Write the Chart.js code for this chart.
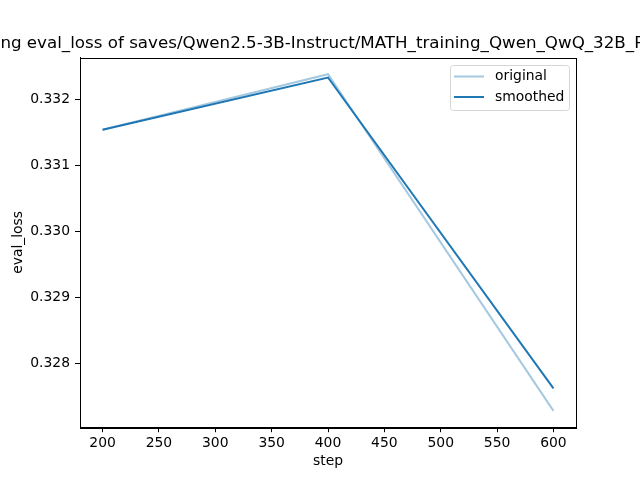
<!DOCTYPE html>
<html>
<head>
<meta charset="utf-8">
<script src="https://cdn.jsdelivr.net/npm/chart.js@4/dist/chart.umd.min.js"></script>
<style>
  html, body { margin: 0; padding: 0; background: #fff; }
  #wrap { width: 640px; height: 480px; }
</style>
</head>
<body>
<div id="wrap"><canvas id="lossChart" width="640" height="480"></canvas></div>
<script>
// values
const steps = [200, 400, 600];
const originalLoss = [0.33154, 0.33238, 0.32728];
const smoothedLoss = [0.33154, 0.33233, 0.32762];

const xTicks = [200, 250, 300, 350, 400, 450, 500, 550, 600];
const yTicks = [0.328, 0.329, 0.330, 0.331, 0.332];

const chartTitle = 'training eval_loss of saves/Qwen2.5-3B-Instruct/MATH_training_Qwen_QwQ_32B_Preview';
const FONT = 'DejaVu Sans';
const TEXT_SIZE = 13.9;

function toPoints(xs, ys) {
    return xs.map((x, i) => ({ x: x, y: ys[i] }));
}

// box round the axes, title and legend drawn like matplotlib does it
const mplExtras = {
    id: 'mplExtras',
    afterDraw(chart) {
        const ctx = chart.ctx;
        const a = chart.chartArea;
        ctx.save();
        ctx.strokeStyle = '#000';
        ctx.lineWidth = 1;
        ctx.strokeRect(Math.round(a.left) + 0.5, Math.round(a.top) + 0.5,
            Math.round(a.right - a.left), Math.round(a.bottom - a.top));

        // title, centred over the axes and clipped by the canvas
        ctx.fillStyle = '#000';
        ctx.font = '16.7px "' + FONT + '"';
        ctx.textAlign = 'center';
        ctx.textBaseline = 'alphabetic';
        ctx.fillText(chartTitle, (a.left + a.right) / 2, 48);

        // legend, upper right
        const bx = 450.5, by = 65.5, bw = 119, bh = 45;
        ctx.beginPath();
        ctx.roundRect(bx, by, bw, bh, 3);
        ctx.fillStyle = 'rgba(255,255,255,0.8)';
        ctx.fill();
        ctx.strokeStyle = '#d6d6d6';
        ctx.stroke();
        ctx.font = TEXT_SIZE + 'px "' + FONT + '"';
        ctx.textAlign = 'left';
        ctx.textBaseline = 'middle';
        chart.data.datasets.forEach((ds, i) => {
            const y = 76.5 + i * 20.5;
            ctx.beginPath();
            ctx.moveTo(454, y);
            ctx.lineTo(484, y);
            ctx.strokeStyle = ds.borderColor;
            ctx.lineWidth = ds.borderWidth;
            ctx.stroke();
            ctx.fillStyle = '#000';
            ctx.fillText(ds.label, 495, y);
        });
        ctx.restore();
    }
};

const ctx = document.getElementById('lossChart').getContext('2d');
new Chart(ctx, {
    type: 'line',
    data: {
        datasets: [{
            label: 'original',
            data: toPoints(steps, originalLoss),
            borderColor: 'rgba(31,119,180,0.4)',
            borderWidth: 2,
            pointRadius: 0,
            fill: false,
            tension: 0
        }, {
            label: 'smoothed',
            data: toPoints(steps, smoothedLoss),
            borderColor: '#1f77b4',
            borderWidth: 2,
            pointRadius: 0,
            fill: false,
            tension: 0
        }]
    },
    options: {
        responsive: false,
        animation: false,
        devicePixelRatio: 1,
        layout: { padding: { top: 57.6, right: 64, bottom: 0, left: 0 } },
        plugins: {
            legend: { display: false },
            title: { display: false },
            tooltip: { enabled: false }
        },
        scales: {
            x: {
                type: 'linear',
                min: 180,
                max: 620,
                afterFit(scale) { scale.height = 52.8; },
                afterBuildTicks(scale) { scale.ticks = xTicks.map(v => ({ value: v })); },
                grid: { drawOnChartArea: false, drawTicks: true, tickLength: 5, color: '#000', tickColor: '#000' },
                border: { display: true, color: '#000' },
                ticks: { color: '#000', padding: 3, maxRotation: 0, font: { family: FONT, size: TEXT_SIZE } },
                title: { display: true, text: 'step', color: '#000', padding: { top: 0, bottom: 10 }, font: { family: FONT, size: TEXT_SIZE } }
            },
            y: {
                type: 'linear',
                min: 0.327032,
                max: 0.332632,
                afterFit(scale) { scale.width = 80; },
                afterBuildTicks(scale) { scale.ticks = yTicks.map(v => ({ value: v })); },
                grid: { drawOnChartArea: false, drawTicks: true, tickLength: 5, color: '#000', tickColor: '#000' },
                border: { display: true, color: '#000' },
                ticks: { color: '#000', padding: 5, font: { family: FONT, size: TEXT_SIZE }, callback: v => v.toFixed(3) },
                title: { display: true, text: 'eval_loss', color: '#000', padding: { top: 10, bottom: 0 }, font: { family: FONT, size: TEXT_SIZE } }
            }
        }
    },
    plugins: [mplExtras]
});
</script>
</body>
</html>
